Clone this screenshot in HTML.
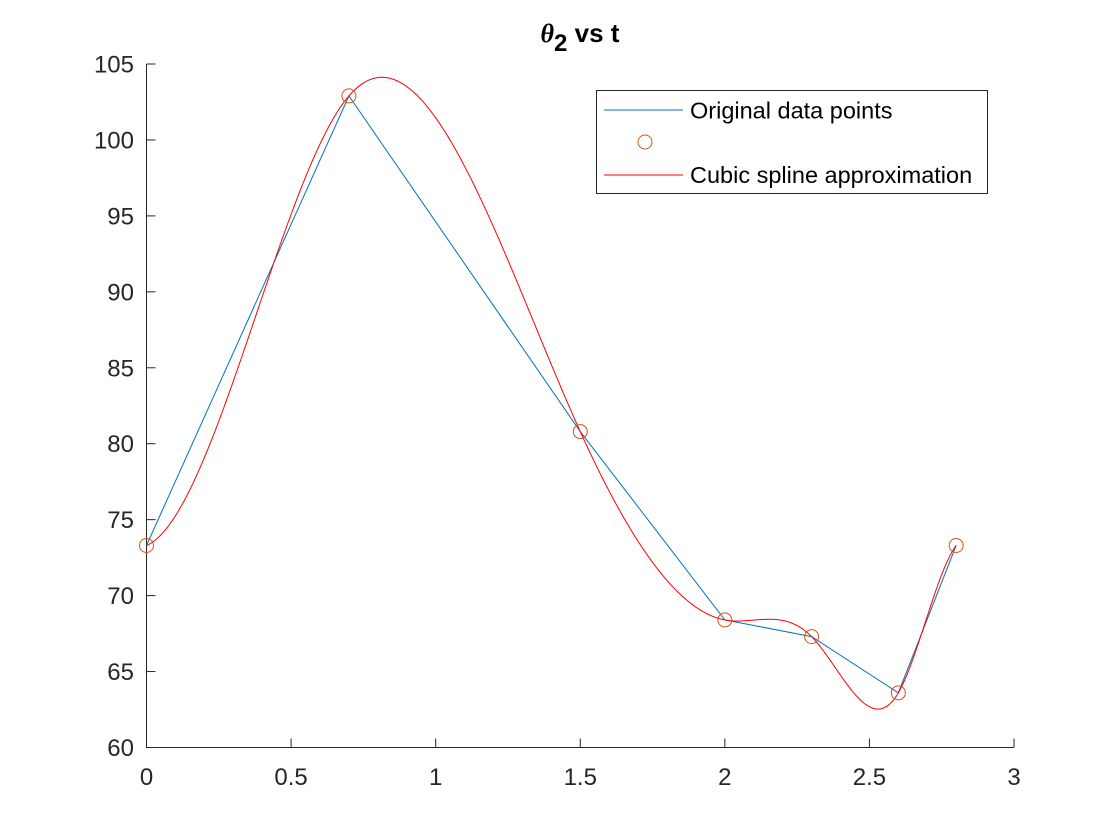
<!DOCTYPE html>
<html><head><meta charset="utf-8"><style>
html,body{margin:0;padding:0;background:#fff;}
svg{display:block;font-family:"Liberation Sans",Arial,sans-serif;}
</style></head><body>
<svg id="chart" width="1119" height="839"></svg>
<script>
const tData = [0, 0.7, 1.5, 2, 2.3, 2.6, 2.8];
const yData = [73.3, 102.9, 80.8, 68.4, 67.3, 63.6, 73.3];
const endSlopes = [8, 25];
const xTicks = [0, 0.5, 1, 1.5, 2, 2.5, 3];
const xTickLabels = ["0", "0.5", "1", "1.5", "2", "2.5", "3"];
const yTicks = [60, 65, 70, 75, 80, 85, 90, 95, 100, 105];
const yTickLabels = ["60", "65", "70", "75", "80", "85", "90", "95", "100", "105"];

const NS = "http://www.w3.org/2000/svg";
const svg = document.getElementById('chart');
const X0 = 146.5, X1 = 1014, Y0 = 747.5, Y1 = 64;
const xs = v => X0 + (v - 0) / 3 * (X1 - X0);
const ys = v => Y0 - (v - 60) / 45 * (Y0 - Y1);
function mk(tag, attrs, parent) {
  const e = document.createElementNS(NS, tag);
  for (const k in attrs) e.setAttribute(k, attrs[k]);
  (parent || svg).appendChild(e);
  return e;
}

// clamped cubic spline
function spline(x, y, s0, sN) {
  const n = x.length, h = [], d = [];
  for (let i = 0; i < n - 1; i++) { h.push(x[i+1]-x[i]); d.push((y[i+1]-y[i])/h[i]); }
  const A = [], b = [];
  for (let i = 0; i < n; i++) { A.push(new Array(n).fill(0)); b.push(0); }
  A[0][0] = 2*h[0]; A[0][1] = h[0]; b[0] = 6*(d[0]-s0);
  for (let i = 1; i < n-1; i++) {
    A[i][i-1] = h[i-1]; A[i][i] = 2*(h[i-1]+h[i]); A[i][i+1] = h[i];
    b[i] = 6*(d[i]-d[i-1]);
  }
  A[n-1][n-2] = h[n-2]; A[n-1][n-1] = 2*h[n-2]; b[n-1] = 6*(sN-d[n-2]);
  for (let c = 0; c < n; c++) {
    let p = c; for (let r = c+1; r < n; r++) if (Math.abs(A[r][c]) > Math.abs(A[p][c])) p = r;
    [A[c], A[p]] = [A[p], A[c]]; [b[c], b[p]] = [b[p], b[c]];
    for (let r = c+1; r < n; r++) { const f = A[r][c]/A[c][c]; for (let k = c; k < n; k++) A[r][k] -= f*A[c][k]; b[r] -= f*b[c]; }
  }
  const M = new Array(n).fill(0);
  for (let r = n-1; r >= 0; r--) { let s = b[r]; for (let k = r+1; k < n; k++) s -= A[r][k]*M[k]; M[r] = s/A[r][r]; }
  return t => {
    let i = 0; while (i < n-2 && t > x[i+1]) i++;
    const a = x[i+1]-t, bb = t-x[i], hi = h[i];
    return M[i]*a*a*a/(6*hi) + M[i+1]*bb*bb*bb/(6*hi) + (y[i]/hi - M[i]*hi/6)*a + (y[i+1]/hi - M[i+1]*hi/6)*bb;
  };
}

// axes
const ax = mk('path', {d:`M${X0},${Y1} L${X0},${Y0} L${X1},${Y0}`, fill:'none', stroke:'#262626', 'stroke-width':1});


xTicks.forEach((v, i) => {
  const t = mk('line', {x1:xs(v), x2:xs(v), y1:Y0, y2:Y0-9, stroke:'#262626'});
  
  
  const l = mk('text', {x:xs(v), y:785, 'text-anchor':'middle', 'font-size':24, fill:'#262626'});
  l.textContent = xTickLabels[i];
  
  
});
yTicks.forEach((v, i) => {
  const t = mk('line', {x1:X0, x2:X0+9, y1:ys(v), y2:ys(v), stroke:'#262626'});
  
  
  const l = mk('text', {x:134, y:ys(v)+8.5, 'text-anchor':'end', 'font-size':24, fill:'#262626'});
  l.textContent = yTickLabels[i];
  
  
});

// title
const title = mk('text', {x:580, y:42, 'text-anchor':'middle', 'font-size':26, 'font-weight':'bold', fill:'#000'});
title.innerHTML = '<tspan font-style="italic" font-family="Liberation Serif, serif">θ</tspan><tspan dy="9" font-size="24">2</tspan><tspan dy="-9"> vs t</tspan>';



// original line
const lp = tData.map((t, i) => `${i?'L':'M'}${xs(t)},${ys(yData[i])}`).join(' ');
const line = mk('path', {d:lp, fill:'none', stroke:'#0072BD', 'stroke-width':1});



// spline
const f = spline(tData, yData, endSlopes[0], endSlopes[1]);
let sp = '';
const N = 400, t0 = tData[0], t1 = tData[tData.length-1];
for (let k = 0; k <= N; k++) { const t = t0 + (t1-t0)*k/N; sp += `${k?'L':'M'}${xs(t).toFixed(2)},${ys(f(t)).toFixed(2)} `; }
const spl = mk('path', {d:sp, fill:'none', stroke:'#FF0000', 'stroke-width':1});



// markers
tData.forEach((t, i) => {
  const c = mk('circle', {cx:xs(t), cy:ys(yData[i]), r:7, fill:'none', stroke:'#D95319', 'stroke-width':1});
  
  
});

// legend
const lg = mk('g', {});


mk('rect', {x:596.5, y:90.5, width:391, height:103, fill:'#fff', stroke:'#262626', 'stroke-width':1}, lg);
mk('line', {x1:604, x2:683, y1:110, y2:110, stroke:'#0072BD'}, lg);
mk('circle', {cx:645, cy:142, r:7, fill:'none', stroke:'#D95319'}, lg);
mk('line', {x1:604, x2:683, y1:175, y2:175, stroke:'#FF0000'}, lg);
const t1e = mk('text', {x:690, y:118.5, 'font-size':23.5, fill:'#000'}, lg); t1e.textContent = 'Original data points';


const t2e = mk('text', {x:690, y:183, 'font-size':23.5, fill:'#000'}, lg); t2e.textContent = 'Cubic spline approximation';


</script>
</body></html>
